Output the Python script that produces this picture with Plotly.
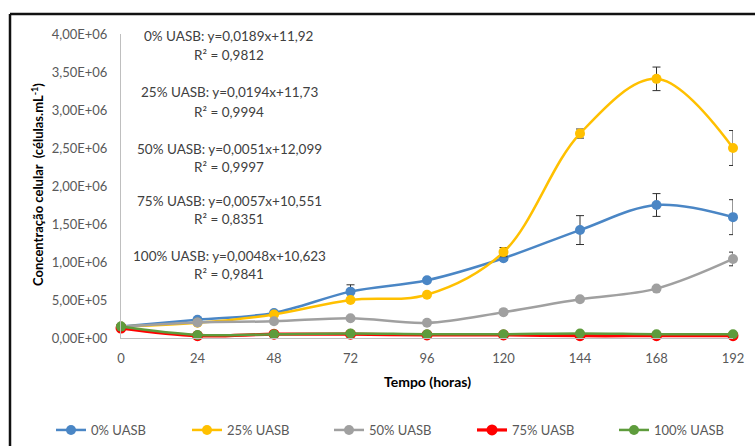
import plotly.graph_objects as go

# Sampling times (hours)
tempo = [0, 24, 48, 72, 96, 120, 144, 168, 192]

# Cell concentration (cells/mL) per UASB effluent fraction
uasb_0 = [1.5e5, 2.4e5, 3.3e5, 6.1e5, 7.6e5, 1.05e6, 1.42e6, 1.75e6, 1.59e6]
uasb_25 = [1.5e5, 2.0e5, 3.1e5, 5.0e5, 5.7e5, 1.13e6, 2.69e6, 3.41e6, 2.50e6]
uasb_50 = [1.5e5, 2.05e5, 2.2e5, 2.6e5, 2.0e5, 3.4e5, 5.1e5, 6.5e5, 1.04e6]
uasb_75 = [1.3e5, 3.0e4, 5.0e4, 5.0e4, 4.0e4, 4.0e4, 3.0e4, 3.0e4, 3.0e4]
uasb_100 = [1.5e5, 4.0e4, 5.0e4, 6.0e4, 5.0e4, 5.0e4, 6.0e4, 5.0e4, 5.0e4]

# Standard deviations
err_0 = [1.0e4, 2.0e4, 3.0e4, 9.0e4, 3.0e4, 3.0e4, 1.9e5, 1.5e5, 2.3e5]
err_25 = [1.0e4, 1.0e4, 2.0e4, 2.0e4, 2.0e4, 6.0e4, 6.0e4, 1.55e5, 2.3e5]
err_50 = [1.0e4, 1.0e4, 1.0e4, 1.0e4, 1.0e4, 1.0e4, 1.0e4, 2.0e4, 9.0e4]
err_75 = [5.0e3] * 9
err_100 = [5.0e3] * 9

series_names = ["0% UASB", "25% UASB", "50% UASB", "75% UASB", "100% UASB"]
series_values = [uasb_0, uasb_25, uasb_50, uasb_75, uasb_100]
series_errors = [err_0, err_25, err_50, err_75, err_100]
series_colors = ["#4a86c5", "#ffc000", "#a0a0a0", "#ff0000", "#5e9c3c"]
series_widths = [2.5, 2.5, 2.5, 3.2, 2.5]
series_sizes = [10, 10, 10, 11, 10]

# Linear fits of ln(concentration) per series
eq_labels = [
    "0% UASB: y=0,0189x+11,92",
    "25% UASB: y=0,0194x+11,73",
    "50% UASB: y=0,0051x+12,099",
    "75% UASB: y=0,0057x+10,551",
    "100% UASB: y=0,0048x+10,623",
]
r2_labels = ["R² = 0,9812", "R² = 0,9994", "R² = 0,9997", "R² = 0,8351", "R² = 0,9841"]

y_ticks = [0, 5e5, 1e6, 1.5e6, 2e6, 2.5e6, 3e6, 3.5e6, 4e6]
y_tick_text = ["0,00E+00", "5,00E+05", "1,00E+06", "1,50E+06", "2,00E+06",
               "2,50E+06", "3,00E+06", "3,50E+06", "4,00E+06"]
x_ticks = tempo

FONT = "Lato"
W, H = 755, 446
ML, MR, MT, MB = 121, 22, 34, 108
PW, PH = W - ML - MR, H - MT - MB


def px_x(px):
    return (px - ML) / PW


def px_y(py):
    return (H - MB - py) / PH


# One legend per series so the legend columns sit on a fixed pitch
legend_ids = ["legend", "legend2", "legend3", "legend4", "legend5"]
legend_left = [51, 187, 329, 472, 614]

fig = go.Figure()
for name, vals, errs, col, lw, ms, lg in zip(series_names, series_values, series_errors,
                                              series_colors, series_widths, series_sizes,
                                              legend_ids):
    fig.add_trace(go.Scatter(
        x=tempo, y=vals, name=name, mode="lines+markers",
        line=dict(color=col, width=lw, shape="spline", smoothing=1.0),
        marker=dict(color=col, size=ms),
        error_y=dict(type="data", array=errs, visible=True,
                     color="#303030", thickness=1, width=4),
        cliponaxis=False, legend=lg,
    ))

annotations = []
eq_y = [36, 92, 149, 201, 256]
r2_y = [55, 112, 167, 219, 274]
for eq, r2, ye, yr in zip(eq_labels, r2_labels, eq_y, r2_y):
    annotations.append(dict(text=eq, x=px_x(229), y=px_y(ye), xref="paper", yref="paper",
                            showarrow=False, xanchor="center", yanchor="middle",
                            font=dict(family=FONT, size=13.5, color="#404040")))
    annotations.append(dict(text=r2, x=px_x(229), y=px_y(yr), xref="paper", yref="paper",
                            showarrow=False, xanchor="center", yanchor="middle",
                            font=dict(family=FONT, size=13.5, color="#404040")))

annotations.append(dict(text="<b>Concentração celular  (células.mL<sup>-1</sup>)</b>",
                        x=px_x(37), y=px_y(184), xref="paper", yref="paper",
                        showarrow=False, textangle=-90, xanchor="center", yanchor="middle",
                        font=dict(family=FONT, size=13, color="#000000")))
annotations.append(dict(text="<b>Tempo (horas)</b>",
                        x=px_x(427), y=px_y(381), xref="paper", yref="paper",
                        showarrow=False, xanchor="center", yanchor="middle",
                        font=dict(family=FONT, size=14, color="#000000")))

# Outer frame (top and left edges)
shapes = [
    dict(type="line", xref="paper", yref="paper", x0=px_x(10), x1=px_x(770),
         y0=px_y(14), y1=px_y(14), line=dict(color="#111111", width=2.5)),
    dict(type="line", xref="paper", yref="paper", x0=px_x(10), x1=px_x(10),
         y0=px_y(14), y1=px_y(460), line=dict(color="#111111", width=2.5)),
]

legend_layout = {}
for lg, left in zip(legend_ids, legend_left):
    legend_layout[lg] = dict(orientation="h", xref="container", yref="container",
                             x=left / W, y=1 - 430 / H, xanchor="left", yanchor="middle",
                             font=dict(family=FONT, size=13, color="#595959"),
                             bgcolor="rgba(0,0,0,0)")

fig.update_layout(
    width=W, height=H,
    margin=dict(l=ML, r=MR, t=MT, b=MB),
    paper_bgcolor="white", plot_bgcolor="white",
    font=dict(family=FONT, color="#595959"),
    showlegend=True,
    xaxis=dict(range=[0, 192], tickvals=x_ticks, ticktext=[str(t) for t in x_ticks],
               showgrid=False, zeroline=False, showline=True, linecolor="#bfbfbf",
               linewidth=1, ticks="", ticklabelstandoff=8,
               tickfont=dict(family=FONT, size=13, color="#595959")),
    yaxis=dict(range=[0, 4e6], tickvals=y_ticks, ticktext=y_tick_text,
               showgrid=False, zeroline=False, showline=True, linecolor="#bfbfbf",
               linewidth=1, ticks="", ticklabelstandoff=10,
               tickfont=dict(family=FONT, size=13, color="#595959")),
    annotations=annotations,
    shapes=shapes,
    **legend_layout,
)

fig.write_html("out.html")
